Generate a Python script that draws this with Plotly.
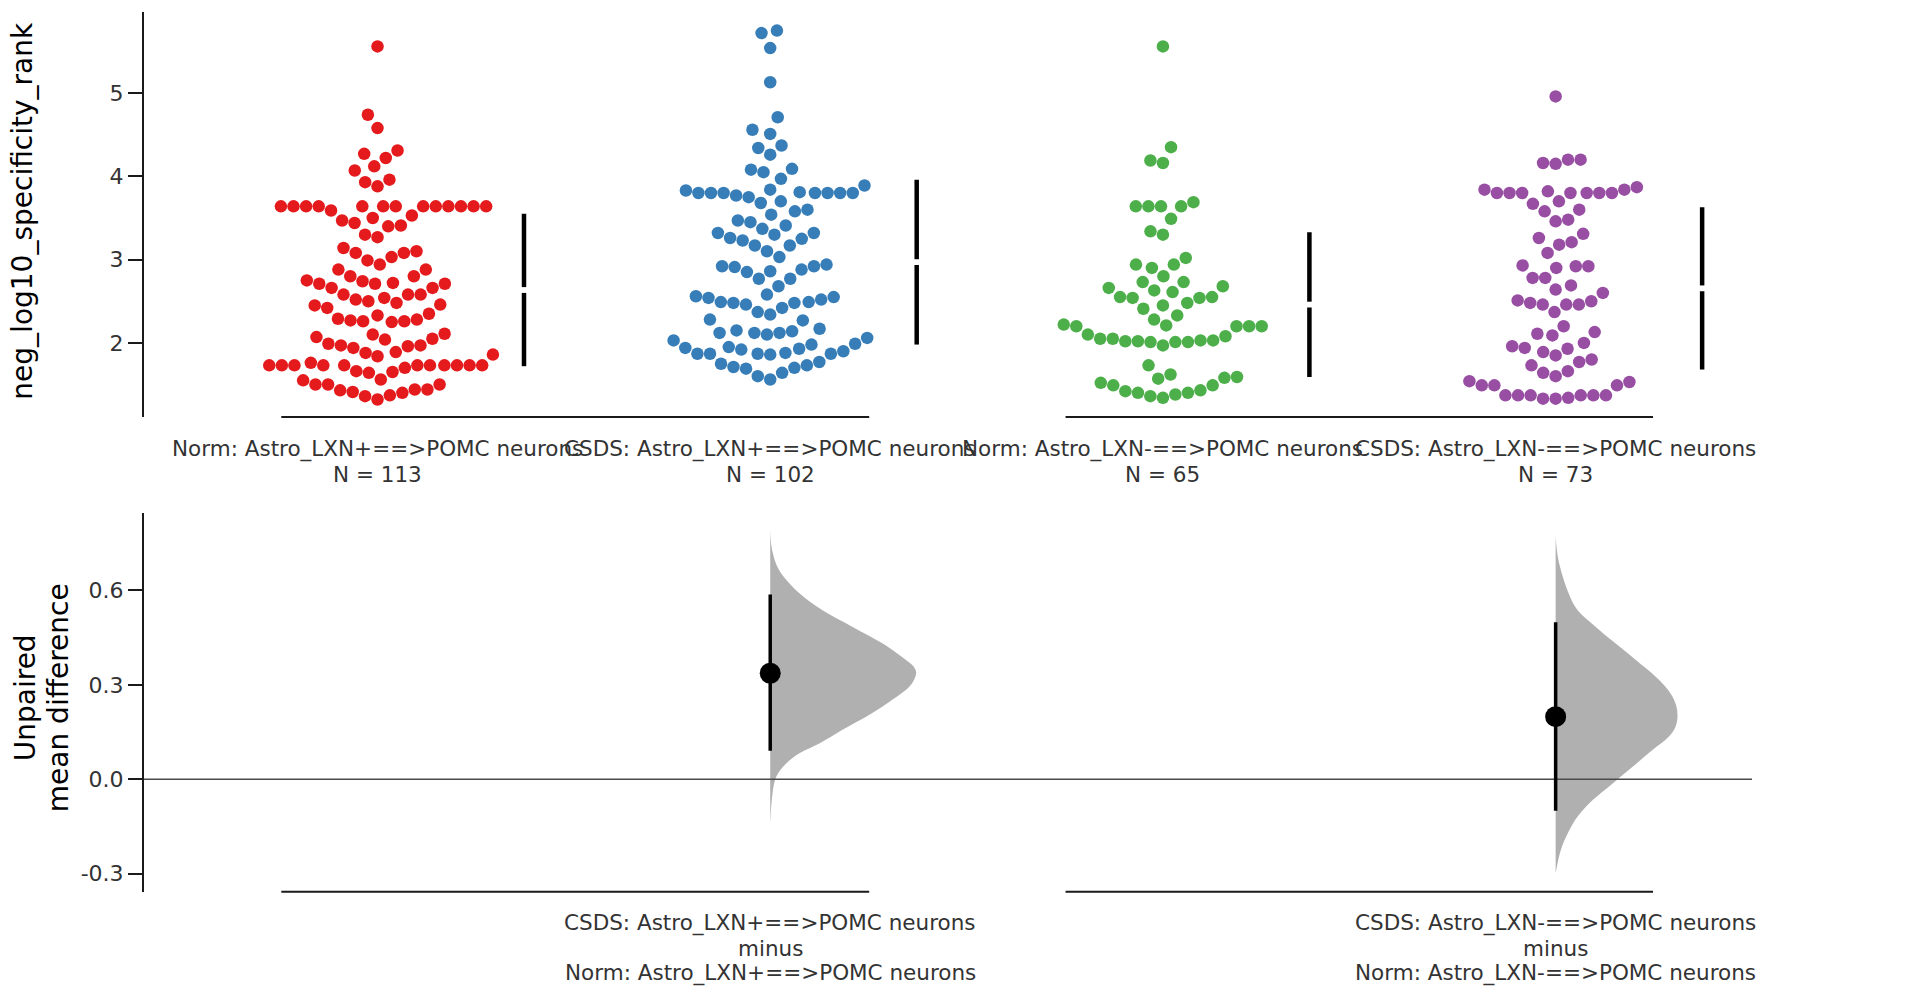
import numpy as np
import plotly.graph_objects as go

# ---------------- data ----------------
group_names = [
    "Norm: Astro_LXN+==>POMC neurons",
    "CSDS: Astro_LXN+==>POMC neurons",
    "Norm: Astro_LXN-==>POMC neurons",
    "CSDS: Astro_LXN-==>POMC neurons",
]
group_colors = ["#E41A1C", "#377EB8", "#4DAF4A", "#984EA3"]

norm_lxn_pos = [
    5.56, 4.74, 4.58, 4.31, 4.27, 4.22, 4.12, 4.07, 3.96, 3.93, 3.88,
    3.64, 3.64, 3.64, 3.64, 3.64, 3.64, 3.64, 3.64, 3.64, 3.64, 3.64, 3.64, 3.64,
    3.59, 3.53, 3.50,
    3.41, 3.47, 3.44, 3.40, 3.30, 3.27, 3.14, 3.08, 3.08, 3.10, 3.03, 2.99, 2.94,
    2.88, 2.88, 2.80, 2.80, 2.71, 2.74, 2.71, 2.71, 2.66, 2.75, 2.72, 2.66, 2.58,
    2.58, 2.58, 2.50, 2.54, 2.46, 2.52, 2.45, 2.48, 2.42, 2.28, 2.25, 2.33, 2.26,
    2.29, 2.26, 2.35, 2.27, 2.05, 1.97, 2.10, 1.99, 2.07, 1.97, 2.11, 1.96, 2.04,
    1.94, 1.88, 1.84, 1.89, 1.86,
    1.73, 1.73, 1.73, 1.73, 1.73, 1.73, 1.73, 1.73, 1.73, 1.73, 1.73,
    1.70, 1.76, 1.66, 1.64, 1.65,
    1.55, 1.50, 1.50, 1.56, 1.44, 1.40, 1.36, 1.43, 1.41, 1.37, 1.50, 1.44, 1.32,
]
csds_lxn_pos = [
    5.75, 5.72, 5.54, 5.13, 4.71, 4.56, 4.51, 4.34, 4.37, 4.26, 4.09, 4.05, 4.08, 3.97,
    3.80, 3.89, 3.81, 3.75, 3.80, 3.83, 3.80, 3.80, 3.80, 3.77, 3.80, 3.70, 3.84, 3.80,
    3.68, 3.58, 3.60, 3.54, 3.47, 3.45, 3.41, 3.37, 3.30, 3.32, 3.32, 3.25, 3.23, 3.26,
    3.17, 3.17, 3.10, 3.03,
    2.94, 2.88, 2.85, 2.92, 2.91, 2.86, 2.92, 2.77, 2.77, 2.68,
    2.49, 2.42, 2.56, 2.52, 2.48, 2.58, 2.49, 2.46, 2.55, 2.54, 2.48, 2.34, 2.37, 2.27, 2.28,
    2.12, 2.12, 2.15, 2.10, 2.14, 2.12, 2.17, 2.03, 2.06,
    1.95, 1.87, 1.93, 1.86, 1.99, 1.87, 1.92, 1.98, 1.87, 1.94, 1.87, 1.88, 1.90,
    1.75, 1.69, 1.71, 1.77, 1.70, 1.73, 1.60, 1.56, 1.64,
]
norm_lxn_neg = [
    5.56, 4.35, 4.16, 4.19,
    3.64, 3.64, 3.64, 3.64, 3.69, 3.49,
    3.30, 3.34,
    3.02, 2.94, 2.90, 2.94, 2.80,
    2.73, 2.73, 2.63, 2.68, 2.66, 2.61,
    2.54, 2.55, 2.48, 2.55, 2.54, 2.45, 2.41,
    2.28, 2.33,
    2.20, 2.20, 2.21, 2.22, 2.20, 2.20,
    2.05, 1.97, 2.02, 2.01, 2.08, 2.03, 2.01, 2.05, 2.02, 2.01, 2.10, 2.03,
    1.73,
    1.58, 1.62, 1.59, 1.57,
    1.49, 1.52, 1.49,
    1.40, 1.36, 1.42, 1.34, 1.40, 1.38, 1.43,
]
csds_lxn_neg = [
    4.96, 4.20, 4.16, 4.15, 4.20,
    3.80, 3.87, 3.80, 3.84, 3.80, 3.80, 3.82, 3.80, 3.84, 3.80, 3.80,
    3.67, 3.70, 3.60, 3.58,
    3.46, 3.48, 3.31, 3.26, 3.18, 3.21, 3.08,
    2.92, 2.93, 2.92, 2.90,
    2.78, 2.78, 2.69, 2.60, 2.64,
    2.46, 2.50, 2.46, 2.46, 2.51, 2.48, 2.37,
    2.20, 2.11, 2.13, 2.09,
    1.94, 2.00, 1.89, 1.96, 1.85, 1.93,
    1.80, 1.73, 1.77,
    1.64, 1.66, 1.60,
    1.49, 1.49, 1.54, 1.53, 1.49,
    1.37, 1.37, 1.33, 1.37, 1.33, 1.37, 1.37, 1.34, 1.37,
]
group_values = [norm_lxn_pos, csds_lxn_pos, norm_lxn_neg, csds_lxn_neg]

# mean and standard deviation per group (gapped lines)
group_means = [2.635, 2.97, 2.46, 2.655]
group_sds = [0.915, 0.99, 0.87, 0.975]

# effect sizes (unpaired mean difference) with 95% CI
diff_test_idx = [1, 3]
diff_control_idx = [0, 2]
diff_means = [0.337, 0.199]
diff_ci_low = [0.091, -0.100]
diff_ci_high = [0.587, 0.499]

# bootstrap density profiles (value, density)
boot1_y = [0.792, 0.729, 0.665, 0.591, 0.538, 0.485, 0.432, 0.379, 0.359, 0.339,
           0.318, 0.294, 0.241, 0.199, 0.157, 0.114, 0.083, 0.051, 0.008, -0.044, -0.140]
boot1_density = [0.0, 0.04, 0.19, 0.63, 1.12, 1.77, 2.42, 2.93, 3.09, 3.15,
                 3.11, 3.00, 2.52, 2.07, 1.55, 1.06, 0.63, 0.35, 0.13, 0.05, 0.0]
boot2_y = [0.771, 0.697, 0.591, 0.538, 0.485, 0.432, 0.379, 0.326, 0.273, 0.235, 0.199,
           0.165, 0.135, 0.093, 0.040, -0.013, -0.066, -0.119, -0.172, -0.225, -0.298]
boot2_density = [0.0, 0.06, 0.28, 0.47, 0.86, 1.29, 1.73, 2.16, 2.48, 2.60, 2.63,
                 2.58, 2.44, 2.09, 1.66, 1.23, 0.80, 0.47, 0.26, 0.11, 0.0]
boot_y = [boot1_y, boot2_y]
boot_density = [boot1_density, boot2_density]

top_yticks = [2, 3, 4, 5]
bot_yticks = [-0.3, 0.0, 0.3, 0.6]
bot_yticktext = ["-0.3", "0.0", "0.3", "0.6"]

# ---------------- layout constants ----------------
W, H = 1920, 1000
ML, MR = 144, 168
X_RANGE = [-0.5946, 3.5]
TOP_DOM = [0.583, 0.9877]
BOT_DOM = [0.1083, 0.4873]
TOP_RANGE = [1.11, 5.97]
BOT_RANGE = [-0.357, 0.847]
FONT = "DejaVu Sans"
AXC = "#1a1a1a"
TXT = "#333333"

plot_w = W - ML - MR
x_px = plot_w / (X_RANGE[1] - X_RANGE[0])
y_px_top = (TOP_DOM[1] - TOP_DOM[0]) * H / (TOP_RANGE[1] - TOP_RANGE[0])

MARKER = 12.5
SWARM_D = 12.0
SWARM_Y_COMPRESS = 0.58


def beeswarm(values, d_px, y_scale, x_scale):
    ys = np.asarray(values, float) * y_scale
    order = np.argsort(ys, kind="stable")
    swarm = []
    xs = np.zeros(len(ys))
    for i in order:
        y = ys[i]
        neigh = []
        for (xj, yj) in reversed(swarm):
            if (y - yj) < d_px:
                neigh.append((xj, yj))
            else:
                break
        cands = [0.0]
        left = True
        for (xj, yj) in neigh:
            dx = np.sqrt(max(d_px ** 2 - (y - yj) ** 2, 0.0)) * 1.05
            pair = [xj - dx, xj + dx] if left else [xj + dx, xj - dx]
            cands.extend(pair)
            left = not left
        cands = np.array(cands)
        cands = cands[np.argsort(np.abs(cands), kind="stable")]
        chosen = cands[0]
        if neigh:
            nx = np.array([n[0] for n in neigh])
            ny = np.array([n[1] for n in neigh])
            for c in cands:
                if np.all((nx - c) ** 2 + (ny - y) ** 2 >= d_px ** 2 * 0.999):
                    chosen = c
                    break
        xs[i] = chosen
        swarm.append((chosen, y))
    return xs / x_scale


fig = go.Figure()

# ---------------- top panel: swarms ----------------
GAP_OFFSET = 0.373
gap = 2.9 / y_px_top
for k, (vals, col) in enumerate(zip(group_values, group_colors)):
    offs = beeswarm(vals, SWARM_D, y_px_top * SWARM_Y_COMPRESS, x_px)
    fig.add_trace(go.Scatter(
        x=k + offs, y=vals, mode="markers",
        marker=dict(color=col, size=MARKER, line=dict(width=0)),
        xaxis="x", yaxis="y", showlegend=False, hoverinfo="y"))
    m, s = group_means[k], group_sds[k]
    xg = k + GAP_OFFSET
    fig.add_trace(go.Scatter(
        x=[xg, xg, None, xg, xg], y=[m - s, m - gap, None, m + gap, m + s],
        mode="lines", line=dict(color="black", width=4.5),
        xaxis="x", yaxis="y", showlegend=False, hoverinfo="skip"))

# ---------------- bottom panel: effect sizes ----------------
DENS_SCALE = 0.118
for j in range(len(diff_means)):
    c = diff_test_idx[j]
    xs = [c + d * DENS_SCALE for d in boot_density[j]]
    fig.add_trace(go.Scatter(
        x=xs, y=boot_y[j], mode="lines", fill="toself",
        fillcolor="#B0B0B0", line=dict(width=0, shape="spline", color="#B0B0B0"),
        xaxis="x2", yaxis="y2", showlegend=False, hoverinfo="skip"))

fig.add_trace(go.Scatter(
    x=X_RANGE, y=[0, 0], mode="lines", line=dict(color="#4a4a4a", width=1.4),
    xaxis="x2", yaxis="y2", showlegend=False, hoverinfo="skip"))

for j in range(len(diff_means)):
    c = diff_test_idx[j]
    fig.add_trace(go.Scatter(
        x=[c, c], y=[diff_ci_low[j], diff_ci_high[j]], mode="lines",
        line=dict(color="black", width=3.5),
        xaxis="x2", yaxis="y2", showlegend=False, hoverinfo="skip"))
    fig.add_trace(go.Scatter(
        x=[c], y=[diff_means[j]], mode="markers",
        marker=dict(color="black", size=21),
        xaxis="x2", yaxis="y2", showlegend=False, hoverinfo="y"))

# ---------------- axis spans (offset x-axis segments) ----------------
shapes = []
for (a, b) in [(-0.245, 1.252), (1.752, 3.248)]:
    for yref in ["y domain", "y2 domain"]:
        shapes.append(dict(type="line", xref="x", yref=yref, x0=a, x1=b, y0=0, y1=0,
                           line=dict(color=AXC, width=2)))


def ypaper(px):
    return 1 - px / H


annotations = []
for k, name in enumerate(group_names):
    annotations.append(dict(x=k, y=ypaper(449), xref="x", yref="paper", text=name,
                            showarrow=False, xanchor="center", yanchor="middle",
                            font=dict(family=FONT, size=21.5, color=TXT)))
    annotations.append(dict(x=k, y=ypaper(474.5), xref="x", yref="paper",
                            text=f"N = {len(group_values[k])}",
                            showarrow=False, xanchor="center", yanchor="middle",
                            font=dict(family=FONT, size=21.5, color=TXT)))
for j in range(len(diff_means)):
    lines = [group_names[diff_test_idx[j]], "minus", group_names[diff_control_idx[j]]]
    for t, py in zip(lines, [922.7, 948.0, 973.3]):
        annotations.append(dict(x=diff_test_idx[j], y=ypaper(py), xref="x", yref="paper",
                                text=t, showarrow=False, xanchor="center", yanchor="middle",
                                font=dict(family=FONT, size=21.5, color=TXT)))

annotations.append(dict(x=0, xshift=23 - ML, y=(TOP_DOM[0] + TOP_DOM[1]) / 2 + 0.004,
                        xref="paper", yref="paper", text="neg_log10_specificity_rank",
                        textangle=-90, showarrow=False, xanchor="center", yanchor="middle",
                        font=dict(family=FONT, size=28, color="black")))
for t, px in [("Unpaired", 25), ("mean difference", 58)]:
    annotations.append(dict(x=0, xshift=px - ML, y=(BOT_DOM[0] + BOT_DOM[1]) / 2 + 0.004,
                            xref="paper", yref="paper", text=t,
                            textangle=-90, showarrow=False, xanchor="center", yanchor="middle",
                            font=dict(family=FONT, size=28, color="black")))

hidden_x = dict(range=X_RANGE, domain=[0, 1], showline=False, showticklabels=False,
                showgrid=False, zeroline=False, ticks="")
yax_common = dict(showline=True, linecolor=AXC, linewidth=2, ticks="outside",
                  ticklen=14, tickwidth=2, tickcolor=AXC, showgrid=False, zeroline=False,
                  tickfont=dict(family=FONT, size=22, color=TXT))

fig.update_layout(
    width=W, height=H,
    margin=dict(l=ML, r=MR, t=0, b=0, pad=0),
    paper_bgcolor="white", plot_bgcolor="white",
    showlegend=False,
    xaxis=dict(anchor="y", **hidden_x),
    xaxis2=dict(anchor="y2", matches="x", **hidden_x),
    yaxis=dict(domain=TOP_DOM, range=TOP_RANGE, tickvals=top_yticks, anchor="x", **yax_common),
    yaxis2=dict(domain=BOT_DOM, range=BOT_RANGE, tickvals=bot_yticks, ticktext=bot_yticktext,
                anchor="x2", **yax_common),
    shapes=shapes,
    annotations=annotations,
)

fig.write_html("out.html", config={"displayModeBar": False},
               post_script="document.body.style.margin='0';document.body.style.padding='0';")
